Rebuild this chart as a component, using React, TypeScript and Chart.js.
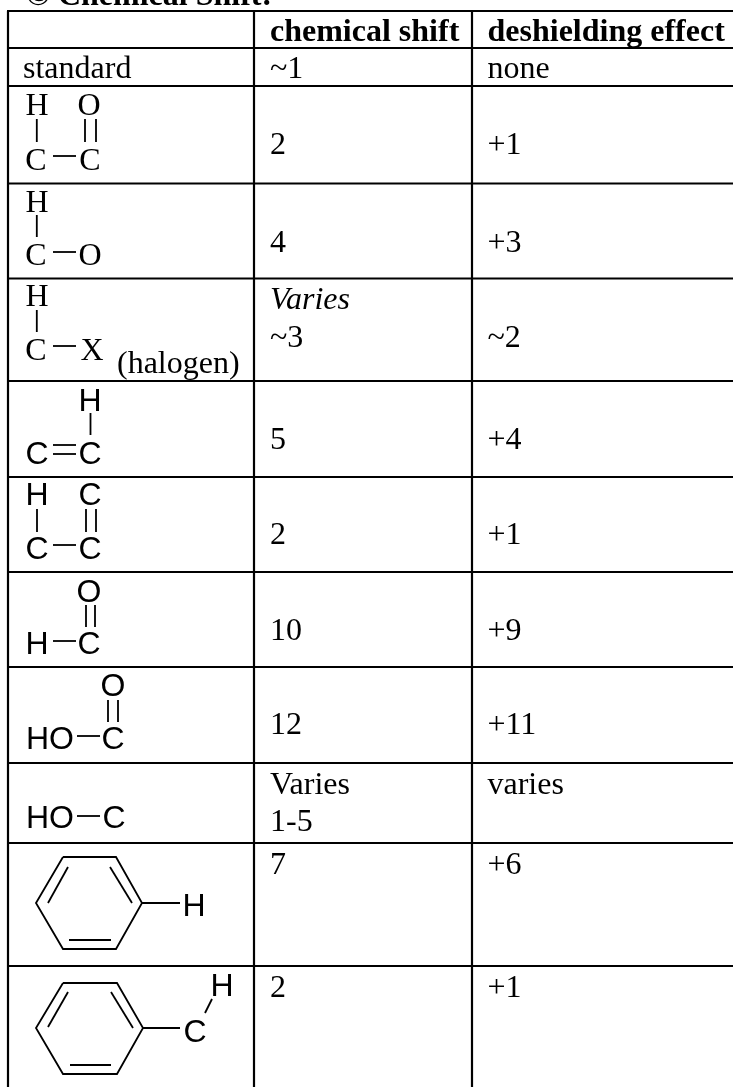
import React, { useEffect, useRef } from "react";
import { Chart, registerables } from "chart.js";

Chart.register(...registerables);

const SERIF = '"Liberation Serif"';
const SANS = '"Liberation Sans"';

// Table text
const title = "© Chemical Shift:";
const columnHeaders = ["chemical shift", "deshielding effect"];
const chemicalShifts = ["~1", "2", "4", "~3", "5", "2", "10", "12", "1-5", "7", "2"];
const deshieldingEffects = ["none", "+1", "+3", "~2", "+4", "+1", "+9", "+11", "varies", "+6", "+1"];
const shiftBaselines = [78, 154, 252, 347, 449, 544, 640, 734, 831, 874, 997];
const effectBaselines = [78, 154, 252, 347, 449, 544, 640, 734, 794, 874, 997];

// Table rules, in the page's data space
const rowRules = [11, 48, 86, 183.5, 278.5, 381, 477, 572, 667, 763, 843, 966];
const columnRules = [8, 254, 472];
const tableRight = 733;
const tableBottom = 1087;

// Segment list: x1, y1, x2, y2
const singleBonds = [
  [36.8, 119, 36.8, 142], [53, 156, 76, 156], [85, 119, 85, 142], [96, 119, 96, 142],
  [36.8, 215, 36.8, 237], [53, 252, 76, 252],
  [36.8, 310, 36.8, 332], [53, 346, 76, 346],
  [90.5, 413, 90.5, 435], [53, 445, 76, 445], [53, 454, 76, 454],
  [37, 509, 37, 532], [86, 509, 86, 532], [96, 509, 96, 532], [53, 545, 76, 545],
  [86, 605, 86, 627], [95, 605, 95, 627], [53, 641, 76, 641],
  [108, 700, 108, 722], [118, 700, 118, 722], [77, 736, 100, 736],
  [77, 816, 100, 816],
  [142, 903, 180, 903],
  [68, 867, 48, 903], [110, 867, 132, 903], [69, 940, 111, 940],
  [143, 1028, 180, 1028], [212, 999, 205, 1013],
  [68, 992, 48, 1027], [111, 992, 133, 1028], [70, 1065, 111, 1065],
];
const benzeneRingA = [[63, 857], [116, 857], [142, 903], [116, 949], [63, 949], [36, 903], [63, 857]];
const benzeneRingB = [[63, 983], [117, 983], [143, 1028], [117, 1074], [63, 1074], [36, 1028], [63, 983]];

// Text: label, x, baseline, anchor, face
type Lab = [string, number, number, CanvasTextAlign, string];
const serifAtoms: Lab[] = [
  ["H", 37, 115, "center", "n"], ["O", 89, 115, "center", "n"], ["C", 36, 169.5, "center", "n"], ["C", 90, 169.5, "center", "n"],
  ["H", 37, 211.5, "center", "n"], ["C", 36, 264.5, "center", "n"], ["O", 90, 264.5, "center", "n"],
  ["H", 37, 305.5, "center", "n"], ["C", 36, 359.5, "center", "n"], ["X", 92, 359.5, "center", "n"],
  ["(halogen)", 117, 372.5, "left", "n"],
  ["standard", 23, 78, "left", "n"],
];
const sansAtoms: Lab[] = [
  ["H", 90, 410.5, "center", "s"], ["C", 37, 463.5, "center", "s"], ["C", 90, 463.5, "center", "s"],
  ["H", 37, 504.5, "center", "s"], ["C", 90, 504.5, "center", "s"], ["C", 37, 558.5, "center", "s"], ["C", 90, 558.5, "center", "s"],
  ["O", 89, 601.5, "center", "s"], ["H", 37, 653.5, "center", "s"], ["C", 89, 653.5, "center", "s"],
  ["O", 113, 695.5, "center", "s"], ["HO", 26, 748.5, "left", "s"], ["C", 113, 748.5, "center", "s"],
  ["HO", 26, 828, "left", "s"], ["C", 114, 828, "center", "s"],
  ["H", 194, 916, "center", "s"], ["C", 195, 1041.5, "center", "s"], ["H", 222, 995.5, "center", "s"],
];
const extraCells: Lab[] = [
  ["Varies", 270, 309, "left", "i"],
  ["Varies", 270, 794, "left", "n"],
];
const headerBaseline = 41;
const titleBaseline = 5;
const titleX = 26;
const shiftX = 270;
const effectX = 487.5;
const FONT_PX = 32;

const seg = (s: number[]) => [{ x: s[0], y: s[1] }, { x: s[2], y: s[3] }];
const line = (data: { x: number; y: number }[], width: number) => ({
  type: "scatter" as const,
  data,
  showLine: true,
  borderColor: "#000",
  borderWidth: width,
  pointRadius: 0,
  fill: false,
  tension: 0,
  clip: false as any,
});

const textPlugin = {
  id: "tableText",
  afterDatasetsDraw(chart: any) {
    const { ctx, scales } = chart;
    const put = (t: string, x: number, y: number, align: CanvasTextAlign, font: string) => {
      ctx.font = font;
      ctx.textAlign = align;
      ctx.textBaseline = "alphabetic";
      ctx.fillStyle = "#000";
      ctx.fillText(t, scales.x.getPixelForValue(x), scales.y.getPixelForValue(y));
    };
    const normal = `${FONT_PX}px ${SERIF}`;
    const bold = `bold ${FONT_PX}px ${SERIF}`;
    const italic = `italic ${FONT_PX}px ${SERIF}`;
    const sans = `${FONT_PX}px ${SANS}`;
    ctx.save();
    put(title, titleX, titleBaseline, "left", bold);
    put(columnHeaders[0], shiftX, headerBaseline, "left", bold);
    put(columnHeaders[1], effectX, headerBaseline, "left", bold);
    chemicalShifts.forEach((t, i) => put(t, shiftX, shiftBaselines[i], "left", normal));
    deshieldingEffects.forEach((t, i) => put(t, effectX, effectBaselines[i], "left", normal));
    [...serifAtoms, ...sansAtoms, ...extraCells].forEach(([t, x, y, a, f]) =>
      put(t, x, y, a, f === "s" ? sans : f === "i" ? italic : normal)
    );
    ctx.restore();
  },
};

export default function App() {
  const ref = useRef<HTMLCanvasElement>(null);
  useEffect(() => {
    document.body.style.margin = "0";
    document.body.style.background = "#fff";
    const datasets: any[] = [
      ...rowRules.map((y) => line([{ x: columnRules[0] - 1, y }, { x: tableRight, y }], 2.2)),
      ...columnRules.map((x) => line([{ x, y: rowRules[0] }, { x, y: tableBottom }], 2.2)),
      ...singleBonds.map((s) => line(seg(s), 1.8)),
      line(benzeneRingA.map(([x, y]) => ({ x, y })), 1.8),
      line(benzeneRingB.map(([x, y]) => ({ x, y })), 1.8),
    ];
    const chart = new Chart(ref.current!, {
      type: "scatter",
      data: { datasets },
      options: {
        animation: false,
        responsive: false,
        devicePixelRatio: 1,
        layout: { padding: 0 },
        plugins: { legend: { display: false }, tooltip: { enabled: false }, title: { display: false } },
        scales: {
          x: { type: "linear", min: 0, max: 733, display: false },
          y: { type: "linear", min: 0, max: 1087, reverse: true, display: false },
        },
      },
      plugins: [textPlugin],
    });
    return () => chart.destroy();
  }, []);
  return <canvas ref={ref} width={733} height={1087} style={{ display: "block", background: "#fff" }} />;
}
